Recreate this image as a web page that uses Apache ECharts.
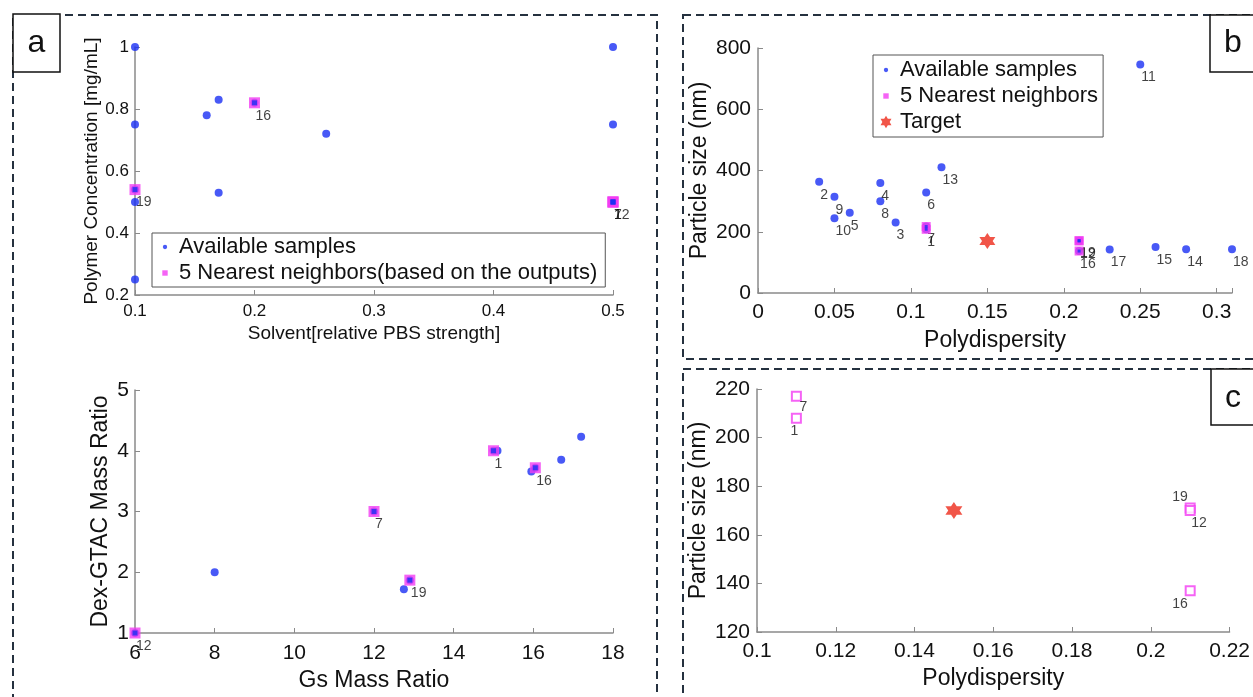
<!DOCTYPE html>
<html><head><meta charset="utf-8">
<script src="https://cdn.jsdelivr.net/npm/echarts@6/dist/echarts.min.js"></script>
<style>html,body{margin:0;padding:0;background:#fff}#c{width:1253px;height:697px}</style>
</head><body><div id="c"></div>
<script>
// ---------- DATA ----------
// Panel a (top): Solvent [relative PBS strength] vs Polymer Concentration [mg/mL]
const aTopAvailX = [0.1, 0.1, 0.1, 0.1, 0.1, 0.16, 0.17, 0.17, 0.2, 0.26, 0.5, 0.5, 0.5];
const aTopAvailY = [1.0, 0.75, 0.54, 0.5, 0.25, 0.78, 0.83, 0.53, 0.82, 0.72, 1.0, 0.75, 0.5];
const aTopNbrX = [0.5, 0.5, 0.5, 0.2, 0.1];
const aTopNbrY = [0.5, 0.5, 0.5, 0.82, 0.54];
const aTopNbrLbl = ['1', '7', '12', '16', '19'];

// Panel a (bottom): Gs Mass Ratio vs Dex-GTAC Mass Ratio
const aBotAvailX = [6, 8, 12, 12.75, 12.9, 15, 15.1, 15.95, 16.05, 16.7, 17.2];
const aBotAvailY = [1, 2, 3, 1.72, 1.87, 4, 4, 3.66, 3.72, 3.85, 4.23];
const aBotNbrX = [15, 12, 6, 16.05, 12.9];
const aBotNbrY = [4, 3, 1, 3.72, 1.87];
const aBotNbrLbl = ['1', '7', '12', '16', '19'];

// Panel b: Polydispersity vs Particle size (nm), samples 1..19
const sampleLbl = ['1','2','3','4','5','6','7','8','9','10','11','12','13','14','15','16','17','18','19'];
const samplePdi = [0.11, 0.04, 0.09, 0.08, 0.06, 0.11, 0.11, 0.08, 0.05, 0.05, 0.25, 0.21, 0.12, 0.28, 0.26, 0.21, 0.23, 0.31, 0.21];
const sampleSize = [208, 363, 230, 359, 262, 328, 217, 300, 314, 244, 746, 170, 411, 143, 150, 137, 142, 143, 171];
const nbrIds = ['7', '1', '19', '12', '16'];
const targetPdi = [0.15];
const targetSize = [170];

// ---------- STYLE ----------
const FONT = 'Liberation Sans, Arial, Helvetica, sans-serif';
const BLUE = '#1a30f4';
const MAG = '#f23cf2';
const RED = '#ee2a1a';
const TXT = '#111111';

function hexagram(R) {
  let d = '';
  for (let k = 0; k < 12; k++) {
    const ang = (-90 + k * 30) * Math.PI / 180;
    const r = k % 2 === 0 ? R : R / Math.sqrt(3);
    const x = (10 + r * Math.cos(ang)).toFixed(3), y = (10 + r * Math.sin(ang)).toFixed(3);
    d += (k === 0 ? 'M' : 'L') + x + ',' + y;
  }
  return d + 'Z';
}
const STAR = 'path://' + hexagram(10);
const STAR_ICON = 'path://M0,0M20,20' + hexagram(7);
const DOT_ICON = 'path://M0,0M20,20M7.6,10A2.4,2.4 0 1,0 12.4,10A2.4,2.4 0 1,0 7.6,10Z';
const SQ_ICON = 'path://M0,0M20,20M7,7L13,7L13,13L7,13Z';

function zip(xs, ys, names) {
  return xs.map((x, i) => ({ value: [x, ys[i]], name: names ? names[i] : '' }));
}

function axis(gi, o) {
  return {
    gridIndex: gi, type: 'value',
    axisLine: { show: true, onZero: false, lineStyle: { color: '#8a8a8a', width: 1.5 } },
    axisTick: { show: true, inside: true, length: 5, lineStyle: { color: '#8a8a8a', width: 1 } },
    axisLabel: { color: TXT, fontSize: o.tick, fontFamily: FONT, margin: o.margin || 8, formatter: o.fmt },
    splitLine: { show: false },
    name: o.name, nameLocation: 'middle', nameGap: o.gap,
    nameTextStyle: { color: TXT, fontSize: o.nameSize, fontFamily: FONT },
    min: o.min, max: o.max, interval: o.interval
  };
}

const numLabel = { show: true, formatter: '{b}', position: 'inside', align: 'left', verticalAlign: 'middle',
  offset: [1, 13], fontSize: 14, color: TXT, fontFamily: FONT };

const idx = id => sampleLbl.indexOf(id);
const nbrX = nbrIds.map(id => samplePdi[idx(id)]);
const nbrY = nbrIds.map(id => sampleSize[idx(id)]);
const cOffsets = { '7': [3, 11], '1': [-6, 13], '19': [-18, -11], '12': [1, 13], '16': [-18, 13] };

const chart = echarts.init(document.getElementById('c'), null, { renderer: 'canvas' });
const option = {
  backgroundColor: '#fff',
  animation: false,
  textStyle: { fontFamily: FONT },
  grid: [
    { left: 135, top: 47, width: 478, height: 248 },
    { left: 135, top: 390, width: 478, height: 243 },
    { left: 758, top: 48, width: 474, height: 245 },
    { left: 757, top: 389, width: 475, height: 243 }
  ],
  xAxis: [
    axis(0, { min: 0.1, max: 0.5, interval: 0.1, tick: 17, name: 'Solvent[relative PBS strength]', gap: 29, nameSize: 19 }),
    axis(1, { min: 6, max: 18, interval: 2, tick: 21, name: 'Gs Mass Ratio', gap: 36, nameSize: 23, margin: 10 }),
    axis(2, { min: 0, max: 0.31, interval: 0.05, tick: 21, name: 'Polydispersity', gap: 36, nameSize: 23, margin: 9,
      fmt: v => Math.abs(v * 20 - Math.round(v * 20)) < 1e-6 ? String(+v.toFixed(2)) : '' }),
    axis(3, { min: 0.1, max: 0.22, interval: 0.02, tick: 21, name: 'Polydispersity', gap: 35, nameSize: 23, margin: 9,
      fmt: v => String(+v.toFixed(2)) })
  ],
  yAxis: [
    axis(0, { min: 0.2, max: 1, interval: 0.2, tick: 17, name: 'Polymer Concentration [mg/mL]', gap: 33, nameSize: 19, margin: 6,
      fmt: v => String(+v.toFixed(1)) }),
    axis(1, { min: 1, max: 5, interval: 1, tick: 21, name: 'Dex-GTAC Mass Ratio', gap: 23, nameSize: 23, margin: 6 }),
    axis(2, { min: 0, max: 800, interval: 200, tick: 21, name: 'Particle size (nm)', gap: 47, nameSize: 23, margin: 7 }),
    axis(3, { min: 120, max: 220, interval: 20, tick: 21, name: 'Particle size (nm)', gap: 47, nameSize: 23, margin: 7 })
  ],
  legend: [
    {
      left: 152, top: 233, orient: 'vertical', itemWidth: 18, itemHeight: 18, itemGap: 4,
      padding: [3, 8, 3, 4], borderColor: '#555', borderWidth: 1, backgroundColor: '#fff',
      textStyle: { fontSize: 22, color: TXT, fontFamily: FONT },
      data: [{ name: 'Available samples', icon: DOT_ICON }, { name: '5 Nearest neighbors(based on the outputs)', icon: SQ_ICON }],
      selectedMode: false
    },
    {
      left: 873, top: 55, orient: 'vertical', itemWidth: 18, itemHeight: 18, itemGap: 4,
      padding: [4, 5, 4, 4], borderColor: '#555', borderWidth: 1, backgroundColor: '#fff',
      textStyle: { fontSize: 22, color: TXT, fontFamily: FONT },
      data: [{ name: 'Available samples', icon: DOT_ICON }, { name: '5 Nearest neighbors', icon: SQ_ICON }, { name: 'Target', icon: STAR_ICON }],
      selectedMode: false
    }
  ],
  series: [
    // ---- a top ----
    { type: 'scatter', name: 'Available samples', xAxisIndex: 0, yAxisIndex: 0, symbol: 'circle', symbolSize: 8,
      itemStyle: { color: BLUE }, data: zip(aTopAvailX, aTopAvailY), z: 2 },
    { type: 'scatter', name: '5 Nearest neighbors(based on the outputs)', xAxisIndex: 0, yAxisIndex: 0, symbol: 'rect', symbolSize: 11,
      itemStyle: { color: MAG }, data: zip(aTopNbrX, aTopNbrY, aTopNbrLbl), label: numLabel, z: 3 },
    { type: 'scatter', name: 'centerA', xAxisIndex: 0, yAxisIndex: 0, symbol: 'rect', symbolSize: 5,
      itemStyle: { color: BLUE }, data: zip(aTopNbrX, aTopNbrY), z: 4, silent: true },
    // ---- a bottom ----
    { type: 'scatter', name: 'Available samples', xAxisIndex: 1, yAxisIndex: 1, symbol: 'circle', symbolSize: 8,
      itemStyle: { color: BLUE }, data: zip(aBotAvailX, aBotAvailY), z: 2 },
    { type: 'scatter', name: '5 Nearest neighbors(based on the outputs)', xAxisIndex: 1, yAxisIndex: 1, symbol: 'rect', symbolSize: 11,
      itemStyle: { color: MAG }, data: zip(aBotNbrX, aBotNbrY, aBotNbrLbl), label: numLabel, z: 3 },
    { type: 'scatter', name: 'centerA2', xAxisIndex: 1, yAxisIndex: 1, symbol: 'rect', symbolSize: 5,
      itemStyle: { color: BLUE }, data: zip(aBotNbrX, aBotNbrY), z: 4, silent: true },
    // ---- b ----
    { type: 'scatter', name: 'Available samples', xAxisIndex: 2, yAxisIndex: 2, symbol: 'circle', symbolSize: 8,
      itemStyle: { color: BLUE }, data: zip(samplePdi, sampleSize, sampleLbl), label: numLabel, z: 2 },
    { type: 'scatter', name: '5 Nearest neighbors', xAxisIndex: 2, yAxisIndex: 2, symbol: 'rect', symbolSize: 9,
      itemStyle: { color: MAG }, data: zip(nbrX, nbrY), z: 3 },
    { type: 'scatter', name: 'centerB', xAxisIndex: 2, yAxisIndex: 2, symbol: 'rect', symbolSize: 3,
      itemStyle: { color: BLUE }, data: zip(nbrX, nbrY), z: 4, silent: true },
    { type: 'scatter', name: 'Target', xAxisIndex: 2, yAxisIndex: 2, symbol: STAR, symbolSize: 16,
      itemStyle: { color: RED }, data: zip(targetPdi, targetSize), z: 5 },
    // ---- c ----
    { type: 'scatter', name: 'nbrC', xAxisIndex: 3, yAxisIndex: 3, symbol: 'rect', symbolSize: 9,
      itemStyle: { color: '#fff', borderColor: MAG, borderWidth: 2 },
      data: nbrIds.map((id, i) => ({ value: [nbrX[i], nbrY[i]], name: id,
        label: { offset: cOffsets[id] } })), label: numLabel, z: 3 },
    { type: 'scatter', name: 'targetC', xAxisIndex: 3, yAxisIndex: 3, symbol: STAR, symbolSize: 17,
      itemStyle: { color: RED }, data: zip(targetPdi, targetSize), z: 5 }
  ],
  graphic: [
    { type: 'rect', shape: { x: 13, y: 15, width: 644, height: 720 }, style: { fill: 'none', stroke: '#25313f', lineWidth: 2, lineDash: [8, 5] }, z: 100 },
    { type: 'rect', shape: { x: 683, y: 15, width: 620, height: 344 }, style: { fill: 'none', stroke: '#25313f', lineWidth: 2, lineDash: [8, 5] }, z: 100 },
    { type: 'rect', shape: { x: 683, y: 369, width: 620, height: 400 }, style: { fill: 'none', stroke: '#25313f', lineWidth: 2, lineDash: [8, 5] }, z: 100 },
    { type: 'rect', shape: { x: 13, y: 14, width: 47, height: 58 }, style: { fill: '#fff', stroke: '#111', lineWidth: 1.5 }, z: 110 },
    { type: 'text', x: 36.5, y: 43, style: { text: 'a', font: '32px ' + FONT, fill: '#111', align: 'center', verticalAlign: 'middle' }, z: 111 },
    { type: 'rect', shape: { x: 1210, y: 15, width: 60, height: 57 }, style: { fill: '#fff', stroke: '#111', lineWidth: 1.5 }, z: 110 },
    { type: 'text', x: 1233, y: 43, style: { text: 'b', font: '32px ' + FONT, fill: '#111', align: 'center', verticalAlign: 'middle' }, z: 111 },
    { type: 'rect', shape: { x: 1211, y: 369, width: 60, height: 56 }, style: { fill: '#fff', stroke: '#111', lineWidth: 1.5 }, z: 110 },
    { type: 'text', x: 1233, y: 398, style: { text: 'c', font: '32px ' + FONT, fill: '#111', align: 'center', verticalAlign: 'middle' }, z: 111 }
  ]
};
chart.setOption(option);
</script>
</body></html>
